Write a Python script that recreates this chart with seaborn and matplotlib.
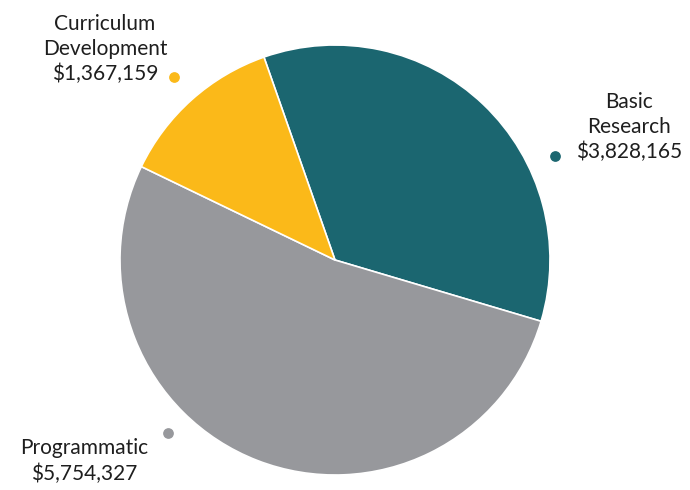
import matplotlib
matplotlib.use("Agg")
import matplotlib.pyplot as plt
import seaborn as sns

categories = ["Basic\nResearch", "Programmatic", "Curriculum\nDevelopment"]
amounts = [3828165, 5754327, 1367159]
colors = ["#1b6670", "#97989c", "#fbb919"]

sns.set_theme(style="white")
plt.rcParams['font.family'] = ['Lato', 'DejaVu Sans']

fig = plt.figure(figsize=(6.9, 4.9), dpi=100)
ax = fig.add_axes([0, 0, 1, 1])

ax.pie(amounts, colors=sns.color_palette(colors), startangle=109.3, counterclock=False,
       center=(335, 230), radius=215,
       wedgeprops=dict(edgecolor="white", linewidth=1.2))

# label blocks with small coloured dots (pixel coords, y up)
label_pos = [(629, 363), (84, 29), (105, 441)]
dot_pos = [(555, 334), (168, 57), (174, 413)]
for name, val, col, (lx, ly), (dx, dy) in zip(categories, amounts, colors, label_pos, dot_pos):
    ax.text(lx, ly, f"{name}\n${val:,}", ha="center", va="center", fontsize=15,
            color="#1e1e1e", linespacing=1.3)
    ax.scatter([dx], [dy], s=45, color=col, zorder=5)

ax.set_xlim(0, 690)
ax.set_ylim(0, 490)
ax.set_aspect("equal")
ax.axis("off")

fig.savefig("out.png", dpi=100)
